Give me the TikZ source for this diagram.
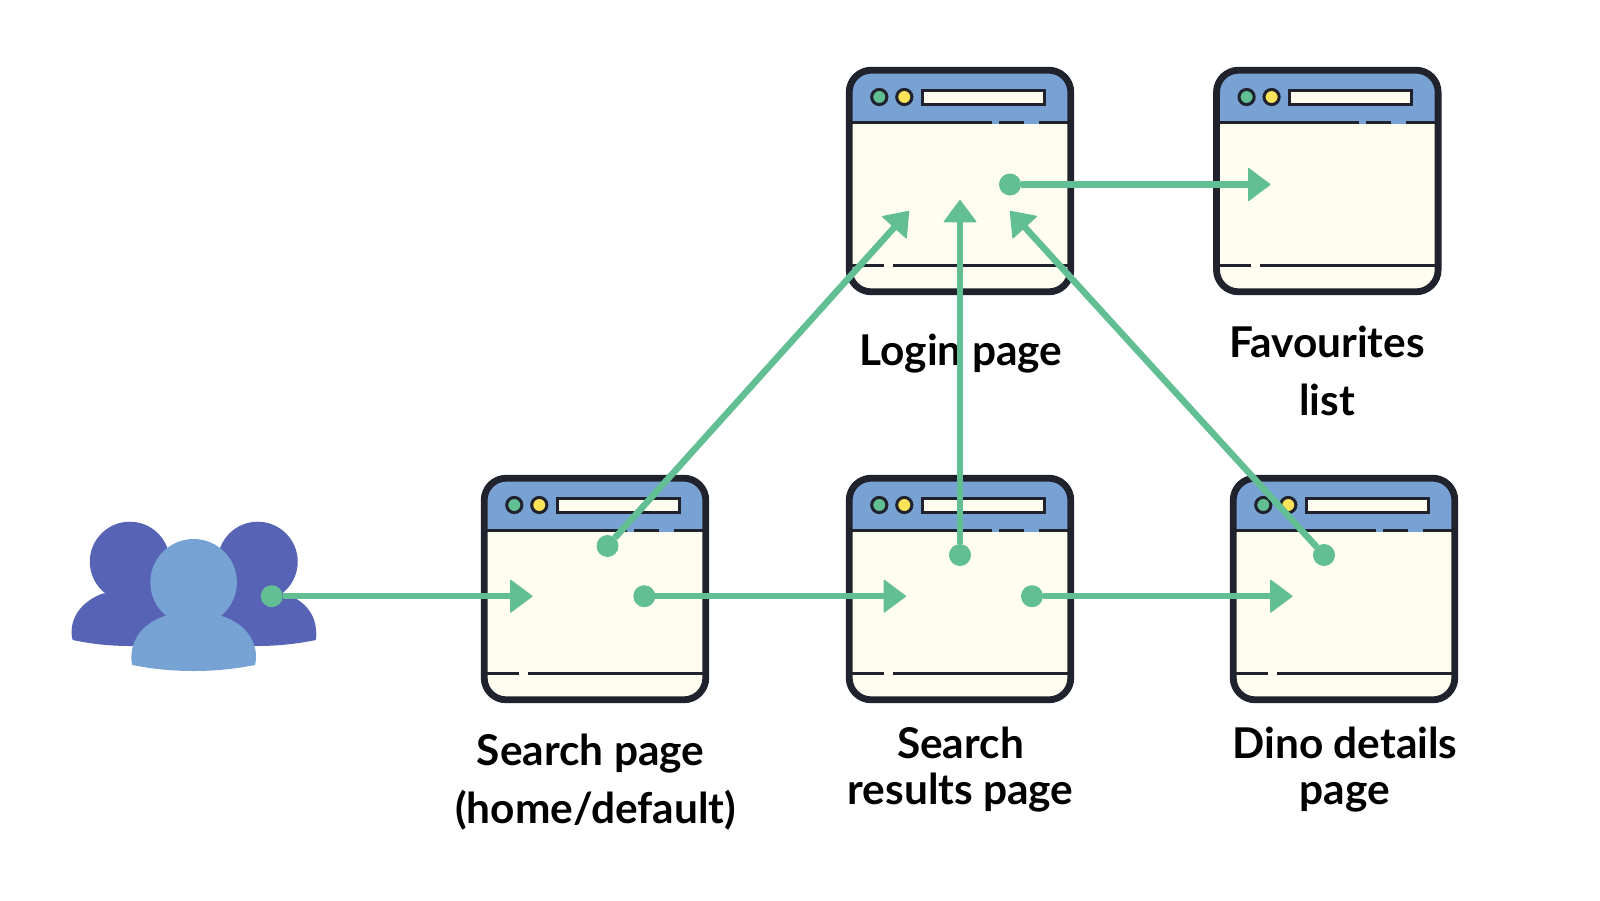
\documentclass[tikz,border=0pt]{standalone}
\usepackage{fontspec}
\setmainfont{Lato}
\usetikzlibrary{arrows.meta}
\definecolor{grn}{HTML}{62BF94}
\definecolor{ink}{HTML}{20232E}
\definecolor{hdr}{HTML}{77A2D3}
\definecolor{crm}{HTML}{FFFDF0}
\definecolor{ylw}{HTML}{FBE45A}
\definecolor{pdark}{HTML}{5763B5}
\definecolor{plight}{HTML}{77A3D4}
\tikzset{
  x=1pt,y=-1pt,
  browser/.pic={
    \node[fill=crm,rounded corners=22pt,minimum size=221.6pt,inner sep=0pt,outer sep=0pt] (-frame) at (114,114) {};
    \begin{scope}
      \clip[rounded corners=22pt] (3.2,3.2) rectangle (224.8,224.8);
      \fill[hdr] (0,0) rectangle (228,57.4);
    \end{scope}
    \draw[ink,line width=3.5pt] (3.2,55.5) -- (146,55.5);
    \draw[ink,line width=3.5pt] (153,55.5) -- (178,55.5);
    \draw[ink,line width=3.5pt] (192.7,55.5) -- (224.8,55.5);
    \draw[ink,line width=3.5pt] (3.2,198.6) -- (38,198.6);
    \draw[ink,line width=3.5pt] (46.7,198.6) -- (224.8,198.6);
    \draw[ink,line width=6.8pt,rounded corners=22pt] (3.2,3.2) rectangle (224.8,224.8);
    \draw[ink,line width=3pt,fill=grn] (33.3,30) circle (7.6);
    \draw[ink,line width=3pt,fill=ylw] (58.3,30) circle (7.6);
    \draw[ink,line width=3.2pt,fill=crm] (76.5,23.2) rectangle (198.5,37.5);
  },
  pagelabel/.style={font=\fontsize{42.4}{58}\selectfont\bfseries,align=center,text=black,inner sep=0pt},
  pagelabelb/.style={font=\fontsize{42.4}{46}\selectfont\bfseries,align=center,text=black,inner sep=0pt},
  dot/.style={circle,fill=grn,minimum size=22pt,inner sep=0pt,outer sep=0pt},
  flow/.style={draw=grn,line width=6.5pt,-{Triangle[length=23pt,width=34pt,round,line width=1.5pt]}},
}
\begin{document}
\begin{tikzpicture}
\useasboundingbox (0,0) rectangle (1600,900);
\fill[white] (0,0) rectangle (1600,900);
% people
\fill[pdark] (129.8,561.7) circle (40);
\fill[pdark] (257.7,561.7) circle (40);
\fill[pdark] (72.7,640) .. controls (71.5,636) and (71.5,633) .. (71.7,630)
  .. controls (72.5,612) and (87,599) .. (103.3,593.3)
  -- (155,593.3) .. controls (175,600) and (187,612) .. (188,640)
  .. controls (150,648) and (110,648) .. (72.7,640) -- cycle;
\fill[pdark] (315.7,640) .. controls (316.5,636) and (316.5,633) .. (316,630)
  .. controls (315,612) and (302,599) .. (284,593.3)
  -- (232,593.3) .. controls (212,600) and (200,612) .. (199,640)
  .. controls (237,648) and (277,648) .. (315.7,640) -- cycle;
\fill[plight] (193.6,582.3) circle (43.3);
\fill[plight] (132.3,665) .. controls (131.3,661) and (131.3,658) .. (131.5,655)
  .. controls (132.5,636) and (146,622) .. (165,616)
  -- (221.7,616) .. controls (241,622) and (255,636) .. (256,655)
  .. controls (256,658) and (256,661) .. (255,665)
  .. controls (215,673) and (172,673) .. (132.3,665) -- cycle;
% windows
\pic (search) at (481,475) {browser};
\pic (results) at (846,475) {browser};
\pic (dino) at (1230,475) {browser};
\pic (login) at (846,67) {browser};
\pic (favs) at (1213.3,67) {browser};
% labels
\node[pagelabel,anchor=base] (lsearch) at (595.5,823.7) {Search page\hspace*{10pt}\\(home/default)};
\node[pagelabelb,anchor=base] (lresults) at (960.5,804) {Search\\results page};
\node[pagelabelb,anchor=base] (ldino) at (1345,804) {Dino details\\page};
\node[pagelabel,anchor=base] (llogin) at (961,365) {Login page};
\node[pagelabel,anchor=base] (lfavs) at (1327,415) {Favourites\\list};
% connector ends
\node[dot] (d1) at (271.7,596.2) {};
\node[dot] (d2) at (644.3,596.2) {};
\node[dot] (d3) at (1032,596.2) {};
\node[dot] (d4) at (607.5,546) {};
\node[dot] (d5) at (960,555) {};
\node[dot] (d6) at (1324,555) {};
\node[dot] (d7) at (1010,184.5) {};
\coordinate (t1) at (532.5,596.2);
\coordinate (t2) at (906,596.2);
\coordinate (t3) at (1292.5,596.2);
\coordinate (t4) at (909,211);
\coordinate (t5) at (960,200);
\coordinate (t6) at (1010,211);
\coordinate (t7) at (1270.5,184.5);
\draw[flow] (d1) -- (t1);
\draw[flow] (d2) -- (t2);
\draw[flow] (d3) -- (t3);
\draw[flow] (d4) -- (t4);
\draw[flow] (d5) -- (t5);
\draw[flow] (d6) -- (t6);
\draw[flow] (d7) -- (t7);
\end{tikzpicture}
\end{document}
